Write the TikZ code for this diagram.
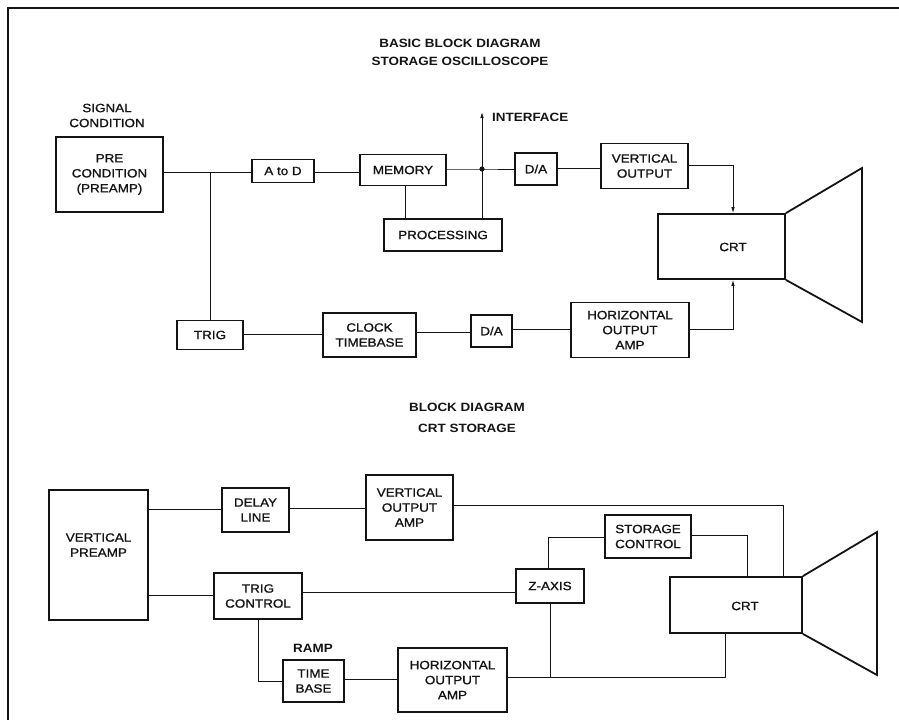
\documentclass[tikz,border=0pt]{standalone}
\usepackage{fontspec}
\setmainfont{Liberation Sans}[FakeStretch=1.12]
\newfontfamily\blkfont{Liberation Sans}[FakeStretch=1.12,FakeBold=1.2]
\usetikzlibrary{arrows.meta}
\definecolor{ink}{HTML}{141414}
\tikzset{
  blk/.style={draw=ink,line width=1.6pt,inner sep=0pt,align=center,text=ink,
              font=\blkfont\fontsize{12}{15}\selectfont},
  tag/.style={align=center,text=ink,inner sep=0pt,font=\blkfont\fontsize{12}{15}\selectfont},
  caption/.style={tag,font=\bfseries\fontsize{12}{18}\selectfont},
  crtbox/.style={draw=ink,line width=1.8pt,inner sep=0pt},
  tube/.style={draw=ink,line width=1.8pt,line join=miter},
  wire/.style={draw=ink,line width=0.8pt},
  feed/.style={wire,-{Latex[length=6pt,width=3.5pt]}}
}
\begin{document}
\begin{tikzpicture}[x=1pt,y=-1pt]
  \useasboundingbox (0,0) rectangle (899,720);
  \draw[tube,line width=2pt] (899,8) -- (8,8) -- (8,720);

  % storage oscilloscope
  \node[caption] (t1) at (460,52) {BASIC BLOCK DIAGRAM\\STORAGE OSCILLOSCOPE};
  \node[tag] (sig) at (107,115.5) {SIGNAL\\CONDITION};
  \node[blk,minimum width=107,minimum height=75] (pre) at (109.5,174.5) {PRE\\CONDITION\\(PREAMP)};
  \node[blk,minimum width=62,minimum height=23] (atod) at (283,171) {A to D};
  \node[blk,minimum width=86,minimum height=31] (mem) at (403,170) {MEMORY};
  \node[blk,minimum width=118,minimum height=32] (proc) at (443,235) {PROCESSING};
  \node[blk,minimum width=42,minimum height=32] (dav) at (536,169) {D/A};
  \node[blk,minimum width=87,minimum height=45] (vout) at (644.5,166) {VERTICAL\\OUTPUT};
  \node[blk,minimum width=66,minimum height=29] (trig) at (210,335) {TRIG};
  \node[blk,minimum width=93,minimum height=44] (clk) at (369.5,335) {CLOCK\\TIMEBASE};
  \node[blk,minimum width=41,minimum height=32] (dah) at (491.5,331) {D/A};
  \node[blk,minimum width=118,minimum height=55] (hout) at (630,330) {HORIZONTAL\\OUTPUT\\AMP};
  \node[crtbox,minimum width=127,minimum height=65] (crta) at (721.5,246.5) {};
  \node[tag] (crtat) at (733,247) {CRT};
  \draw[tube] (crta.north east) -- (862,168) -- (862,322) -- (crta.south east);
  \node[tag,anchor=west,font=\bfseries\fontsize{12}{15}\selectfont] (ifl) at (492,117) {INTERFACE};

  \coordinate (jtrig) at (210,172);
  \coordinate (jdat) at (482,169);
  \coordinate (iface) at (482,112);
  \coordinate (vtap) at (733,165);
  \coordinate (htap) at (733,329);
  \draw[wire] (pre.east |- jtrig) -- (atod.west |- jtrig);
  \draw[wire] (jtrig) -- (trig.north);
  \draw[wire] (atod.east |- jtrig) -- (mem.west |- jtrig);
  \draw[wire] (mem.east |- jdat) -- (jdat) -- (dav.west |- jdat);
  \draw[wire] (mem.south) ++(2,0) -- ++(0,33.5);
  \draw[wire] (jdat) -- (jdat |- proc.north);
  \draw[feed] (jdat) -- (iface);
  \fill[ink] (jdat) circle (2.6);
  \draw[wire] (dav.east |- 0,168) -- (vout.west |- 0,168);
  \draw[feed] (vout.east |- vtap) -- (vtap) -- (vtap |- crta.north);
  \draw[wire] (trig.east |- 0,334) -- (clk.west |- 0,334);
  \draw[wire] (clk.east |- 0,332) -- (dah.west |- 0,332);
  \draw[wire] (dah.east |- htap) -- (hout.west |- htap);
  \draw[feed] (hout.east |- htap) -- (htap) -- (htap |- crta.south);

  % crt storage
  \node[caption,font=\bfseries\fontsize{12}{21}\selectfont] (t2) at (467,418) {BLOCK DIAGRAM\\CRT STORAGE};
  \node[blk,minimum width=99,minimum height=130,
        label={[tag,yshift=10]center:VERTICAL\\PREAMP}] (vpre) at (98.5,555) {};
  \node[blk,minimum width=67,minimum height=44] (dly) at (255.5,510) {DELAY\\LINE};
  \node[blk,minimum width=87,minimum height=65] (voa) at (409.5,507.5) {VERTICAL\\OUTPUT\\AMP};
  \node[blk,minimum width=86,minimum height=43] (stc) at (648,536.5) {STORAGE\\CONTROL};
  \node[blk,minimum width=68,minimum height=34] (zax) at (550,586) {Z-AXIS};
  \node[blk,minimum width=88,minimum height=46] (tctl) at (258,596) {TRIG\\CONTROL};
  \node[tag,font=\bfseries\fontsize{12}{15}\selectfont] (ramp) at (313,648) {RAMP};
  \node[blk,minimum width=61,minimum height=42] (tbase) at (313.5,681) {TIME\\BASE};
  \node[blk,minimum width=109,minimum height=64] (hoa) at (452.5,680) {HORIZONTAL\\OUTPUT\\AMP};
  \node[crtbox,minimum width=132,minimum height=56] (crtb) at (736,605) {};
  \node[tag] (crtbt) at (745,606) {CRT};
  \draw[tube] (crtb.north east) -- (877,532) -- (877,675) -- (crtb.south east);

  \coordinate (vdef) at (783,505);
  \coordinate (stor) at (747,535);
  \coordinate (zfeed) at (548,537);
  \coordinate (hdef) at (725,677);
  \draw[wire] (vpre.east |- 0,509) -- (dly.west |- 0,509);
  \draw[wire] (dly.east |- 0,508) -- (voa.west |- 0,508);
  \draw[wire] (voa.east |- vdef) -- (vdef) -- (vdef |- crtb.north);
  \draw[wire] (stc.east |- stor) -- (stor) -- (stor |- crtb.north);
  \draw[wire] (stc.west |- zfeed) -- (zfeed) -- (zfeed |- zax.north);
  \draw[wire] (vpre.east |- 0,595) -- (tctl.west |- 0,595);
  \draw[wire] (tctl.east |- 0,592) -- (zax.west |- 0,592);
  \draw[wire] (tctl.south) -- (tctl.south |- tbase.west) -- (tbase.west);
  \draw[wire] (tbase.east |- 0,679) -- (hoa.west |- 0,679);
  \draw[wire] (hoa.east |- hdef) -- (hdef) -- (hdef |- crtb.south);
  \draw[wire] (zax.south) -- (zax.south |- hdef);
\end{tikzpicture}
\end{document}
